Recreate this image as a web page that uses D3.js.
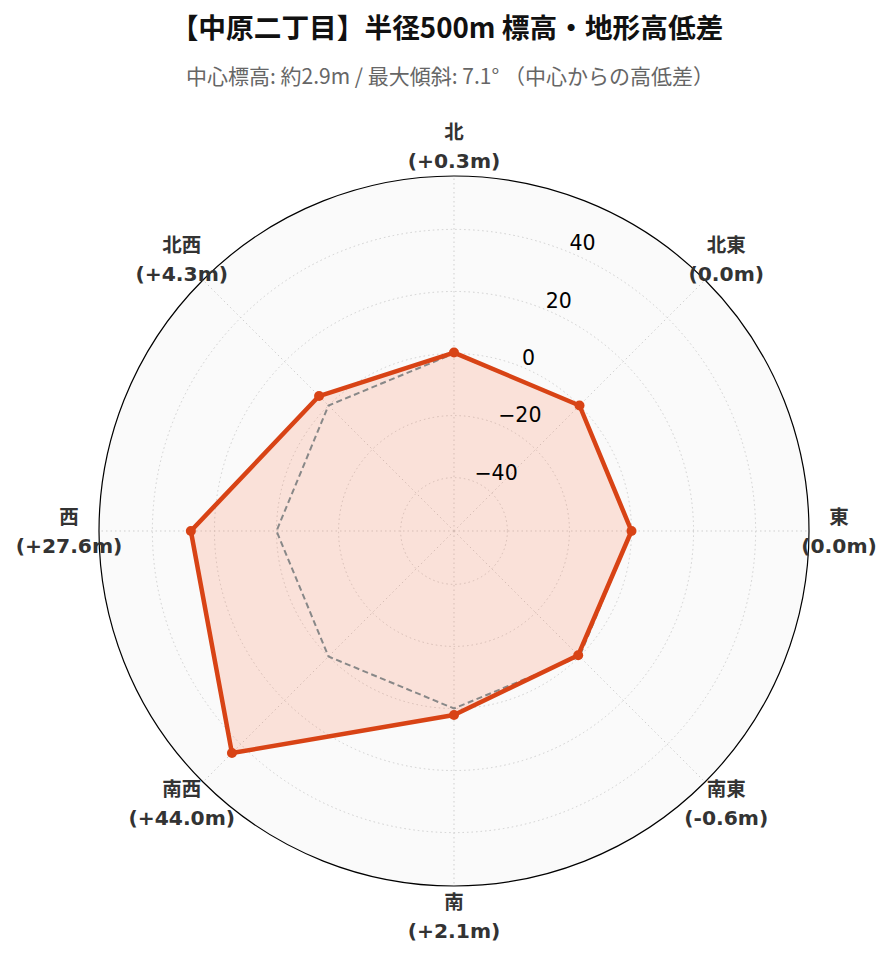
<!DOCTYPE html>
<html><head><meta charset="utf-8">
<script src="https://cdn.jsdelivr.net/npm/d3@7"></script>
<style>body{margin:0;background:#fff}svg{display:block}</style>
</head><body>
<script>
const directions = ["北","北東","東","南東","南","南西","西","北西"];
const diffs = [0.3, 0.0, 0.0, -0.6, 2.1, 44.0, 27.6, 4.3];
const diffLabels = ["+0.3m","0.0m","0.0m","-0.6m","+2.1m","+44.0m","+27.6m","+4.3m"];
const radialTicks = [-40, -20, 0, 20, 40];
const titleText = "【中原二丁目】半径500m 標高・地形高低差";
const subtitleText = "中心標高: 約2.9m / 最大傾斜: 7.1° （中心からの高低差）";

const W = 891, H = 962, cx = 454, cy = 531, R = 355;
const font = "'DejaVu Sans','Noto Sans CJK JP',sans-serif";
const cjk = "'Noto Sans CJK JP','DejaVu Sans',sans-serif";
const lineColor = "#d84315";

const svg = d3.select("body").append("svg").attr("width", W).attr("height", H);

svg.append("text").attr("x", 447).attr("y", 38).attr("text-anchor","middle")
  .attr("font-family", cjk).attr("font-weight","bold").attr("font-size", 27.7).attr("fill","#111")
  .text(titleText);
svg.append("text").attr("x", 450).attr("y", 84).attr("text-anchor","middle")
  .attr("font-family", cjk).attr("font-size", 21).attr("fill","#666")
  .text(subtitleText);

const lim = d3.max(diffs, d => Math.abs(d)) * 1.3;
const r = d3.scaleLinear().domain([-lim, lim]).range([0, R]);
const ang = d3.scaleLinear().domain([0, directions.length]).range([0, 2*Math.PI]);

const g = svg.append("g").attr("transform", `translate(${cx},${cy})`);
g.append("circle").attr("r", R).attr("fill", "#fafafa");

// grid circles
g.selectAll("circle.grid").data(radialTicks).join("circle").attr("class","grid")
  .attr("r", d => r(d)).attr("fill","none").attr("stroke","#cfcfcf")
  .attr("stroke-width",1).attr("stroke-dasharray","1.5,3");
// spokes
g.selectAll("line.spoke").data(directions).join("line").attr("class","spoke")
  .attr("x1",0).attr("y1",0)
  .attr("x2",(d,i)=>R*Math.sin(ang(i))).attr("y2",(d,i)=>-R*Math.cos(ang(i)))
  .attr("stroke","#cfcfcf").attr("stroke-width",1).attr("stroke-dasharray","1.5,3");

const radial = d3.lineRadial().angle((d,i)=>ang(i)).radius(d=>r(d)).curve(d3.curveLinearClosed);

// data area fill
g.append("path").attr("d", radial(diffs))
  .attr("fill","#ff5722").attr("fill-opacity",0.15).attr("stroke","none");
// zero reference
g.append("path").attr("d", radial(diffs.map(()=>0)))
  .attr("fill","none").attr("stroke","#888").attr("stroke-width",2).attr("stroke-dasharray","6,3.5");
// data line
g.append("path").attr("d", radial(diffs))
  .attr("fill","none").attr("stroke",lineColor).attr("stroke-width",4.5).attr("stroke-linejoin","round");
g.selectAll("circle.pt").data(diffs).join("circle").attr("class","pt")
  .attr("cx",(d,i)=>r(d)*Math.sin(ang(i))).attr("cy",(d,i)=>-r(d)*Math.cos(ang(i)))
  .attr("r",5).attr("fill",lineColor);

// outer circle
g.append("circle").attr("r", R).attr("fill","none").attr("stroke","#000").attr("stroke-width",1.2);

// radial tick labels at 22.5°
const la = Math.PI/8;
g.selectAll("text.rt").data(radialTicks).join("text").attr("class","rt")
  .attr("x", d => r(d)*Math.sin(la)).attr("y", d => -r(d)*Math.cos(la) - 2)
  .attr("font-family", font).attr("font-size", 20.5).attr("fill","#000")
  .text(d => d < 0 ? "\u2212" + Math.abs(d) : String(d));

// direction labels
const lr = 385;
const lab = g.selectAll("g.lab").data(directions).join("g").attr("class","lab")
  .attr("transform",(d,i)=>`translate(${lr*Math.sin(ang(i))},${-lr*Math.cos(ang(i))})`);
lab.append("text").attr("y",-7).attr("text-anchor","middle")
  .attr("font-family", font).attr("font-weight","bold").attr("font-size",19.5).attr("fill","#333")
  .text(d=>d);
lab.append("text").attr("y",22).attr("text-anchor","middle")
  .attr("font-family", font).attr("font-weight","bold").attr("font-size",20.3).attr("fill","#333")
  .text((d,i)=>"(" + diffLabels[i] + ")");
</script>
</body></html>
